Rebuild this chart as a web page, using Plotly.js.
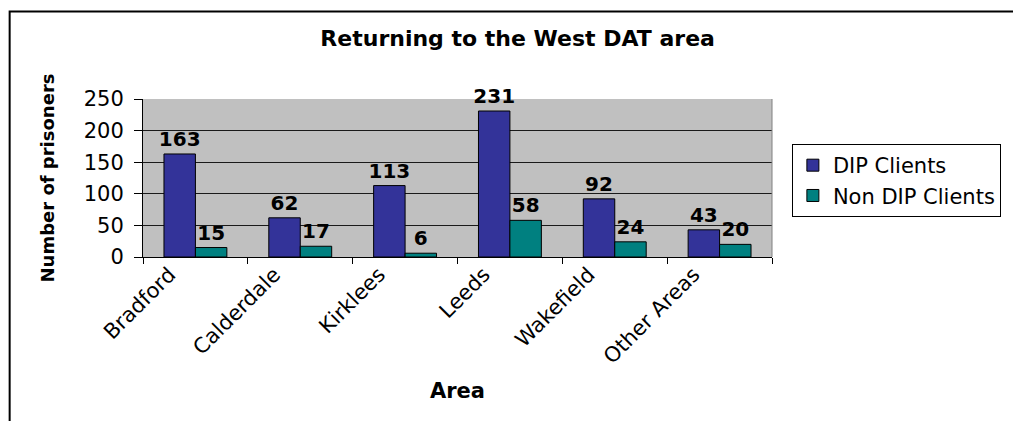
<!DOCTYPE html>
<html>
<head>
<meta charset="utf-8">
<script src="https://cdn.plot.ly/plotly-3.0.1.min.js"></script>
<style>
  html, body { margin: 0; padding: 0; background: white; }
  #graph-container { width: 1013px; height: 421px; }
</style>
</head>
<body>
<div id="graph-container"></div>
<script>
const areas = ['Bradford', 'Calderdale', 'Kirklees', 'Leeds', 'Wakefield', 'Other Areas'];
const dipClients = [163, 62, 113, 231, 92, 43];
const nonDipClients = [15, 17, 6, 58, 24, 20];

const FONT = 'DejaVu Sans, Arial, sans-serif';

function barTrace(name, values, color) {
    return {
        x: areas,
        y: values,
        type: 'bar',
        name: name,
        marker: {
            color: color,
            line: { color: '#000000', width: 1 }
        },
        text: values.map(String),
        textposition: 'outside',
        constraintext: 'none',
        cliponaxis: false,
        textfont: { family: FONT, size: 20, weight: 'bold', color: '#000000' },
        hoverinfo: 'x+y+name'
    };
}

const traces = [
    barTrace('DIP Clients', dipClients, '#333399'),
    barTrace('Non DIP Clients', nonDipClients, '#008080')
];

const layout = {
    width: 1013,
    height: 421,
    margin: { l: 143, r: 238, t: 99, b: 164 },
    paper_bgcolor: 'white',
    plot_bgcolor: '#C0C0C0',
    font: { family: FONT, color: '#000000' },
    title: {
        text: 'Returning to the West DAT area',
        font: { family: FONT, size: 22, weight: 'bold', color: '#000000' },
        x: 0.511,
        xanchor: 'center',
        y: 0.91,
        yanchor: 'middle'
    },
    barmode: 'group',
    bargap: 0.4,
    bargroupgap: 0,
    xaxis: {
        title: {
            text: 'Area',
            font: { family: FONT, size: 21, weight: 'bold' },
            standoff: 15
        },
        tickangle: -45,
        tickfont: { family: FONT, size: 21 },
        tickson: 'boundaries',
        ticks: 'outside',
        ticklen: 6,
        tickcolor: '#000000',
        ticklabelstandoff: -4,
        ticklabelshift: -26,
        showline: true,
        linecolor: '#000000',
        linewidth: 1,
        showgrid: false,
        fixedrange: true
    },
    yaxis: {
        title: {
            text: 'Number of prisoners',
            font: { family: FONT, size: 18, weight: 'bold' },
            standoff: 24
        },
        range: [0, 250],
        dtick: 50,
        tickfont: { family: FONT, size: 21 },
        ticks: 'outside',
        ticklen: 8,
        tickcolor: '#000000',
        ticklabelstandoff: 6,
        showline: true,
        linecolor: '#000000',
        linewidth: 1,
        showgrid: true,
        gridcolor: '#1a1a1a',
        gridwidth: 1,
        zeroline: false,
        fixedrange: true
    },
    showlegend: true,
    legend: {
        x: 1.0316,
        xanchor: 'left',
        y: 0.715,
        yanchor: 'top',
        bgcolor: 'white',
        bordercolor: '#000000',
        borderwidth: 1,
        font: { family: FONT, size: 21, color: '#000000' }
    },
    shapes: [
        // outer chart border, runs off the right and bottom edges
        {
            type: 'rect', xref: 'paper', yref: 'paper',
            x0: -0.212, x1: 2, y0: -2, y1: 1.554,
            line: { color: '#000000', width: 2 }
        },
        // gray plot-area border on the right
        {
            type: 'line', xref: 'paper', yref: 'paper',
            x0: 1, x1: 1, y0: 0, y1: 1,
            line: { color: '#808080', width: 1 }
        }
    ]
};

Plotly.newPlot('graph-container', traces, layout, { displayModeBar: false, staticPlot: true });
</script>
</body>
</html>
